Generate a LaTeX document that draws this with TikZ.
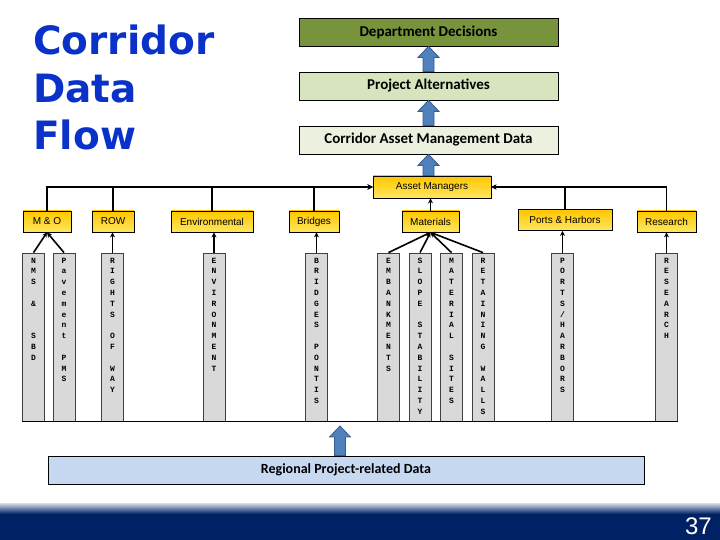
\documentclass[tikz,border=0pt]{standalone}
\usepackage{fontspec}
\setmainfont{Carlito}
\newfontfamily\titlefont{DejaVu Sans}
\newfontfamily\catfont{Liberation Sans}
\newfontfamily\colfont{Liberation Mono}
\usetikzlibrary{arrows.meta,calc}

\definecolor{titleblue}{RGB}{10,50,200}
\definecolor{ddgreen}{RGB}{119,147,60}
\definecolor{pagreen}{RGB}{215,228,189}
\definecolor{camdgreen}{RGB}{235,241,222}
\definecolor{yeltop}{RGB}{255,198,0}
\definecolor{yelbot}{RGB}{255,230,95}
\definecolor{colgrey}{RGB}{217,217,217}
\definecolor{rpdblue}{RGB}{198,217,241}
\definecolor{arrowblue}{RGB}{79,129,189}
\definecolor{arrowedge}{RGB}{56,93,138}
\definecolor{navy}{RGB}{0,33,100}
\definecolor{navylight}{RGB}{195,205,222}

\newcommand\blkarrow[2]{%
  \path[draw=arrowedge, fill=arrowblue, line width=0.8] let \p1=(#1), \p2=(#2) in
    (\x1-5.5,\y1) -- (\x1-5.5,\y2-11) -- (\x1-10.5,\y2-11) -- (\x1,\y2)
    -- (\x1+10.5,\y2-11) -- (\x1+5.5,\y2-11) -- (\x1+5.5,\y1) -- cycle;}

\begin{document}
\begin{tikzpicture}[x=1pt,y=1pt,
  topbox/.style={draw=black, line width=0.8, minimum width=259, minimum height=28, inner sep=0,
    font=\bfseries\fontsize{15}{17}\selectfont},
  catbox/.style={draw=black, line width=0.8, top color=yeltop, bottom color=yelbot,
    minimum height=21, inner sep=0, font=\catfont\fontsize{10}{12}\selectfont},
  colbox/.style={draw=black!75, line width=0.8, fill=colgrey, minimum width=22,
    minimum height=168, inner sep=0},
  coltext/.style={anchor=north, inner sep=0, align=center,
    font=\colfont\bfseries\fontsize{8}{10.8}\selectfont},
  conn/.style={line width=1.6, -{Stealth[length=5,width=5]}},
  plainline/.style={line width=1.6},
  titletext/.style={anchor=base west, inner sep=0, text=titleblue,
    font=\titlefont\bfseries\fontsize{39}{47}\selectfont},
]
\useasboundingbox (0,0) rectangle (720,540);
\fill[white] (0,0) rectangle (720,540);

% title
\node[titletext] (t1) at (33,485) {Corridor};
\node[titletext] (t2) at (33,437) {Data};
\node[titletext] (t3) at (33,390) {Flow};

% top stack
\node[topbox, fill=ddgreen] (dd) at (428.5,508) {Department Decisions};
\node[topbox, fill=pagreen] (pa) at (428.5,454) {Project Alternatives};
\node[topbox, fill=camdgreen] (camd) at (428.5,400) {Corridor Asset Management Data};
\node[catbox, minimum width=118, minimum height=22] (am) at (432,353) {Asset Managers};

\blkarrow{pa.north}{dd.south}
\blkarrow{camd.north}{pa.south}
\blkarrow{camd.south |- am.north}{camd.south}

% categories
\node[catbox, minimum width=48] (mo) at (47,318.5) {M \& O};
\node[catbox, minimum width=42] (row) at (113,318.5) {ROW};
\node[catbox, minimum width=82] (env) at (212,318.5) {Environmental};
\node[catbox, minimum width=50] (bri) at (314,318.5) {Bridges};
\node[catbox, minimum width=57] (mat) at (430.5,318.5) {Materials};
\node[catbox, minimum width=94] (ph) at (565,320) {Ports \& Harbors};
\node[catbox, minimum width=59] (res) at (666.5,318.5) {Research};

% connectors to asset managers
\draw[conn] (mo.north) |- (am.west);
\draw[conn] (row.north) |- (am.west);
\draw[conn] (env.north) |- (am.west);
\draw[conn] (bri.north) |- (am.west);
\draw[conn] (ph.north) |- (am.east);
\draw[conn] (res.north) |- (am.east);
\draw[conn] (mat.north) -- (mat.north |- am.south);

% columns
\node[colbox] (c1) at (33.5,203) {};
\node[colbox] (c2) at (64,203) {};
\node[colbox] (c3) at (112.5,203) {};
\node[colbox] (c4) at (214,203) {};
\node[colbox] (c5) at (316.5,203) {};
\node[colbox] (c6) at (388.5,203) {};
\node[colbox] (c7) at (420,203) {};
\node[colbox] (c8) at (451.5,203) {};
\node[colbox] (c9) at (483,203) {};
\node[colbox] (c10) at (562.5,203) {};
\node[colbox] (c11) at (666.5,203) {};

\node[coltext] at ($(c1.north)+(0,-5)$) {N\\M\\S\\~\\\&\\~\\~\\S\\B\\D};
\node[coltext] at ($(c2.north)+(0,-5)$) {P\\a\\v\\e\\m\\e\\n\\t\\~\\P\\M\\S};
\node[coltext] at ($(c3.north)+(0,-5)$) {R\\I\\G\\H\\T\\S\\~\\O\\F\\~\\W\\A\\Y};
\node[coltext] at ($(c4.north)+(0,-5)$) {E\\N\\V\\I\\R\\O\\N\\M\\E\\N\\T};
\node[coltext] at ($(c5.north)+(0,-5)$) {B\\R\\I\\D\\G\\E\\S\\~\\P\\O\\N\\T\\I\\S};
\node[coltext] at ($(c6.north)+(0,-5)$) {E\\M\\B\\A\\N\\K\\M\\E\\N\\T\\S};
\node[coltext] at ($(c7.north)+(0,-5)$) {S\\L\\O\\P\\E\\~\\S\\T\\A\\B\\I\\L\\I\\T\\Y};
\node[coltext] at ($(c8.north)+(0,-5)$) {M\\A\\T\\E\\R\\I\\A\\L\\~\\S\\I\\T\\E\\S};
\node[coltext] at ($(c9.north)+(0,-5)$) {R\\E\\T\\A\\I\\N\\I\\N\\G\\~\\W\\A\\L\\L\\S};
\node[coltext] at ($(c10.north)+(0,-5)$) {P\\O\\R\\T\\S\\/\\H\\A\\R\\B\\O\\R\\S};
\node[coltext] at ($(c11.north)+(0,-5)$) {R\\E\\S\\E\\A\\R\\C\\H};

% column connectors
\draw[conn] (c1.north) -- (mo.south);
\draw[conn] (c2.north) -- (mo.south);
\draw[conn] (c3.north) -- (c3.north |- row.south);
\draw[conn] (c4.north) -- (c4.north |- env.south);
\draw[conn] (c5.north) -- (c5.north |- bri.south);
\draw[conn] (c6.north) -- (mat.south);
\draw[conn] (c7.north) -- (mat.south);
\draw[conn] (c8.north) -- (mat.south);
\draw[conn] (c9.north) -- (mat.south);
\draw[conn] (c10.north) -- (c10.north |- ph.south);
\draw[conn] (c11.north) -- (c11.north |- res.south);

% bottom line
\draw[plainline] (c1.south west) -- (c11.south east);

% regional data
\node[draw=black, line width=0.8, fill=rpdblue, minimum width=596, minimum height=28, inner sep=0,
  font=\bfseries\fontsize{14}{16}\selectfont] (rpd) at (346,70) {Regional Project-related Data};
\coordinate (rpdtip) at (340,114);
\blkarrow{rpd.north -| rpdtip}{rpdtip}

% banner
\shade[top color=navylight, bottom color=navy] (0,26) rectangle (720,36);
\fill[navy] (0,0) rectangle (720,26.2);
\node[anchor=base east, inner sep=0, text=white, font=\catfont\fontsize{24}{24}\selectfont] (pg) at (712,5) {37};
\end{tikzpicture}
\end{document}
